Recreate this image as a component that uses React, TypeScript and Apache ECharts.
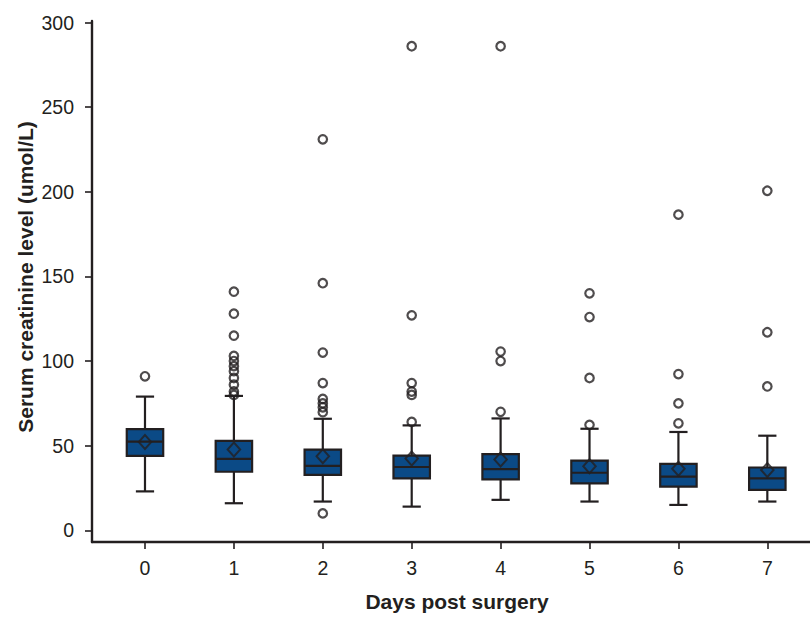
import React, { useEffect, useRef } from "react";
import * as echarts from "echarts";

// Days post surgery
const days = [0, 1, 2, 3, 4, 5, 6, 7];
// five-number summaries (serum creatinine, umol/L)
const whiskerLow = [23, 16, 17, 14, 18, 17, 15, 17];
const q1 = [44, 34.6, 32.7, 30.7, 30.1, 27.7, 25.8, 23.9];
const median = [52.4, 42.2, 38.1, 37.4, 36.2, 34, 31.7, 30.7];
const q3 = [59.8, 52.8, 47.7, 44.1, 45, 41.2, 39.3, 37.1];
const whiskerHigh = [79, 79.4, 65.9, 62, 66.1, 60, 58.1, 55.9];
const means = [52.2, 47.7, 43.8, 42.4, 41.8, 37.9, 36.4, 35.6];
const outliers: number[][] = [
  [91],
  [141, 128, 115, 103, 100, 97, 94, 90, 86, 82, 80],
  [231, 146, 105, 87, 77.6, 75, 72.7, 69.8, 10],
  [286, 127, 87, 82, 80, 64],
  [286, 105.6, 100, 70],
  [140, 126, 90, 62.3],
  [186.5, 92.3, 75, 63.2],
  [200.6, 117, 85],
];
const yTicks = [0, 50, 100, 150, 200, 250, 300];

const INK = "#231f20";
const FONT = "'Liberation Sans', Arial, Helvetica, sans-serif";

export default function App() {
  const ref = useRef<HTMLDivElement>(null);
  useEffect(() => {
    if (!ref.current) return;
    const chart = echarts.init(ref.current, null, { renderer: "svg" });
    const boxData = days.map((d, i) => [d, whiskerLow[i], q1[i], median[i], q3[i], whiskerHigh[i]]);
    const meanData = days.map((d, i) => [d, means[i]]);
    const outlierData: number[][] = [];
    days.forEach((d, i) => outliers[i].forEach((v) => outlierData.push([d, v])));

    chart.setOption({
      animation: false,
      backgroundColor: "#ffffff",
      grid: { left: 92, right: 0, top: 21, bottom: 71.3, containLabel: false },
      xAxis: {
        type: "value",
        min: -0.596,
        max: 7.48,
        axisLine: { show: true, onZero: false, lineStyle: { color: INK, width: 2.4 } },
        axisTick: { show: true, customValues: days, length: 7, lineStyle: { color: INK, width: 1.6 } },
        axisLabel: {
          show: true,
          customValues: days,
          formatter: (v: number) => String(Math.round(v)),
          fontSize: 19.5,
          color: INK,
          fontFamily: FONT,
          margin: 16,
        },
        splitLine: { show: false },
        name: "Days post surgery",
        nameLocation: "middle",
        nameGap: 49,
        nameMoveOverlap: false,
        nameTextStyle: {
          fontSize: 21,
          fontWeight: "bold",
          color: INK,
          fontFamily: FONT,
          padding: [0, 0, 0, 12],
        },
      },
      yAxis: {
        type: "value",
        min: -6.9,
        max: 300.9,
        axisLine: { show: true, onZero: false, lineStyle: { color: INK, width: 2.4 } },
        axisTick: { show: true, customValues: yTicks, length: 7, lineStyle: { color: INK, width: 1.6 } },
        axisLabel: {
          show: true,
          customValues: yTicks,
          formatter: (v: number) => String(Math.round(v)),
          fontSize: 19.5,
          color: INK,
          fontFamily: FONT,
          margin: 18,
        },
        splitLine: { show: false },
        name: "Serum creatinine level (umol/L)",
        nameLocation: "middle",
        nameGap: 56,
        nameMoveOverlap: false,
        nameTextStyle: {
          fontSize: 21,
          fontWeight: "bold",
          color: INK,
          fontFamily: FONT,
          padding: [0, 0, 0, 9],
        },
      },
      series: [
        {
          type: "custom",
          data: boxData,
          encode: { x: 0, y: [1, 2, 3, 4, 5] },
          clip: false,
          z: 2,
          renderItem: (params: any, api: any) => {
            const x = api.value(0);
            const lo = api.coord([x, api.value(1)]);
            const b1 = api.coord([x, api.value(2)]);
            const md = api.coord([x, api.value(3)]);
            const b3 = api.coord([x, api.value(4)]);
            const hi = api.coord([x, api.value(5)]);
            const band = api.size([1, 0])[0];
            const bw = band * 0.41;
            const cw = bw * 0.5;
            const cx = b1[0];
            const ls = { stroke: INK, lineWidth: 2.2, fill: null };
            return {
              type: "group",
              children: [
                { type: "line", shape: { x1: cx, y1: b3[1], x2: cx, y2: hi[1] }, style: ls },
                { type: "line", shape: { x1: cx, y1: b1[1], x2: cx, y2: lo[1] }, style: ls },
                { type: "line", shape: { x1: cx - cw / 2, y1: hi[1], x2: cx + cw / 2, y2: hi[1] }, style: ls },
                { type: "line", shape: { x1: cx - cw / 2, y1: lo[1], x2: cx + cw / 2, y2: lo[1] }, style: ls },
                {
                  type: "rect",
                  shape: { x: cx - bw / 2, y: b3[1], width: bw, height: b1[1] - b3[1] },
                  style: { fill: "#0b4a86", stroke: INK, lineWidth: 2.2 },
                },
                { type: "line", shape: { x1: cx - bw / 2, y1: md[1], x2: cx + bw / 2, y2: md[1] }, style: ls },
              ],
            };
          },
        },
        {
          type: "scatter",
          data: meanData,
          symbol: "diamond",
          symbolSize: [12.5, 14],
          z: 3,
          itemStyle: { color: "transparent", borderColor: INK, borderWidth: 2 },
        },
        {
          type: "scatter",
          data: outlierData,
          symbol: "circle",
          symbolSize: 8.5,
          z: 3,
          itemStyle: { color: "transparent", borderColor: INK, borderWidth: 2.2 },
        },
      ],
    });
    return () => chart.dispose();
  }, []);
  return (
    <div
      ref={ref}
      style={{ position: "fixed", left: 0, top: 0, width: 810, height: 617, background: "#fff" }}
    />
  );
}
